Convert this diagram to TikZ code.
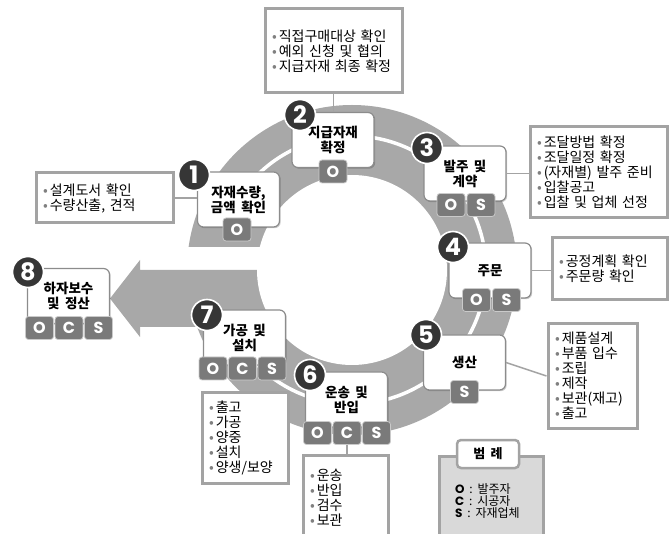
\documentclass[tikz,border=0pt]{standalone}
\usepackage{fontspec}
\setmainfont{Noto Sans CJK KR}[WordSpace=1.8]
\newfontfamily\geo{Poppins}
\usetikzlibrary{shadows}
\definecolor{ringc}{HTML}{A8A8A8}
\definecolor{badgec}{HTML}{7A7A7A}
\definecolor{edgec}{HTML}{8C8C8C}
\definecolor{infoc}{HTML}{A3A3A3}
\definecolor{numc}{HTML}{363636}
\definecolor{legc}{HTML}{D9D9D9}
\newcommand\bl{\textcolor{gray}{\textbullet}\hspace{2pt}}
\begin{document}
\begin{tikzpicture}[x=1pt,y=-1pt,
  stagebox/.style={draw=edgec, line width=1.2pt, fill=white, rounded corners=6pt, minimum width=82pt, minimum height=55pt, inner sep=0pt, align=center, font=\fontsize{13.5}{15}\selectfont\bfseries, drop shadow={shadow xshift=1.2pt, shadow yshift=-1.2pt, fill=black, opacity=0.2}},
  infobox/.style={draw=infoc, line width=3pt, fill=white, inner xsep=7pt, inner ysep=0pt, align=left, font=\fontsize{14}{15}\selectfont},
  badge/.style={fill=badgec, draw=white!60!badgec, line width=0.8pt, rounded corners=3pt, minimum width=28pt, minimum height=23pt, inner sep=0pt, text=white, font=\geo\bfseries\fontsize{16}{16}\selectfont},
  numdot/.style={circle, fill=numc, draw=white, line width=1.6pt, minimum size=31pt, inner sep=0pt, text=white, font=\geo\bfseries\fontsize{24}{24}\selectfont},
  link/.style={draw=infoc, line width=1.5pt}
]
\useasboundingbox (0,0) rectangle (672,534);
% ring and arrow
\fill[ringc] (352,270) circle (165);
\fill[white] (180,247) rectangle (266,270);
\fill[ringc] (140,270) -- (280,270) -- (280,327) -- (140,327) -- (140,337) -- (110,298.5) -- (140,260) -- cycle;
\fill[white] (352,270) circle (95);
\draw[white, line width=3.5pt] (352,270) ++(205:134) arc[start angle=205, end angle=495, radius=134];

% info boxes
\node[infobox, text width=123pt, minimum height=50pt] (i1) at (104.5,198) {\bl 설계도서 확인\\\bl 수량산출, 견적};
\node[infobox, text width=123pt, minimum height=84pt] (i2) at (333.5,51) {\bl 직접구매대상 확인\\\bl 예외 신청 및 협의\\\bl 지급자재 최종 확정};
\node[infobox, text width=123pt, minimum height=91pt] (i3) at (598.5,172.5) {\bl 조달방법 확정\\\bl 조달일정 확정\\\bl (자재별) 발주 준비\\\bl 입찰공고\\\bl 입찰 및 업체 선정};
\node[infobox, text width=101pt, minimum height=62pt] (i4) at (609.5,269) {\bl 공정계획 확인\\\bl 주문량 확인};
\node[infobox, text width=75pt, minimum height=104pt] (i5) at (592.5,376) {\bl 제품설계\\\bl 부품 입수\\\bl 조립\\\bl 제작\\\bl 보관(재고)\\\bl 출고};
\node[infobox, text width=71pt, minimum height=85pt] (i6) at (345.5,497.5) {\bl 운송\\\bl 반입\\\bl 검수\\\bl 보관};
\node[infobox, text width=72pt, minimum height=90pt] (i7) at (245,438) {\bl 출고\\\bl 가공\\\bl 양중\\\bl 설치\\\bl 양생/보양};

% stage boxes
\node[stagebox] (n1) at (238.5,199.5) {자재수량,\\금액 확인};
\node[stagebox] (n2) at (333,140) {지급자재\\확정};
\node[stagebox] (n3) at (465,173.5) {발주 및\\계약};
\node[stagebox] (n4) at (490,270.5) {주문};
\node[stagebox] (n5) at (464.5,362.5) {생산};
\node[stagebox] (n6) at (346.5,399.5) {운송 및\\반입};
\node[stagebox] (n7) at (244.5,337.5) {가공 및\\설치};
\node[stagebox] (n8) at (68.5,296) {하자보수\\및 정산};

% connectors
\draw[link] (i1.east) -- (i1.east -| n1.west);
\draw[link] (i2.south) -- (i2.south |- n2.north);
\draw[link] (n3.east) -- (n3.east -| i3.west);
\draw[link] (n4.east) -- (n4.east -| i4.west);
\draw[link] (n5.east) -- (i5.west);

% badges
\node[badge] (b1o) at (237,229.5) {O};
\node[badge] (b2o) at (333,171.5) {O};
\node[badge] (b3o) at (451,205) {O};
\node[badge] (b3s) at (481,205) {S};
\node[badge] (b4o) at (476.5,300) {O};
\node[badge] (b4s) at (506.5,300) {S};
\node[badge] (b5s) at (464.5,392) {S};
\node[badge] (b6o) at (317.5,433) {O};
\node[badge] (b6c) at (347,433) {C};
\node[badge] (b6s) at (376.5,433) {S};
\node[badge] (b7o) at (213,368.5) {O};
\node[badge] (b7c) at (242.5,368.5) {C};
\node[badge] (b7s) at (272,368.5) {S};
\node[badge] (b8o) at (39.5,328) {O};
\node[badge] (b8c) at (69,328) {C};
\node[badge] (b8s) at (98.5,328) {S};
\draw[link] (b6c.south) -- (b6c.south |- i6.north);

% number circles
\node[numdot] (k1) at (194,175) {1};
\node[numdot] (k2) at (300,115) {2};
\node[numdot] (k3) at (427,148) {3};
\node[numdot] (k4) at (453,247) {4};
\node[numdot] (k5) at (426,335) {5};
\node[numdot] (k6) at (310,375) {6};
\node[numdot] (k7) at (207,315) {7};
\node[numdot] (k8) at (28,272) {8};

% legend
\node[draw=infoc, line width=3pt, fill=legc, minimum width=104pt, minimum height=95pt, anchor=north west, inner sep=0pt] (leg) at (438,455) {};
\node[draw=infoc, line width=2.5pt, fill=white, rounded corners=4pt, minimum width=62pt, minimum height=28pt, inner sep=0pt, font=\fontsize{13}{13}\selectfont\bfseries] (legt) at (488,454) {범 례};
\node[anchor=north west, align=left, inner sep=0pt, font=\fontsize{12}{12}\selectfont] (legx) at (455,483) {{\geo\bfseries O} : 발주자\\{\geo\bfseries C} : 시공자\\{\geo\bfseries S} : 자재업체};
\end{tikzpicture}
\end{document}
